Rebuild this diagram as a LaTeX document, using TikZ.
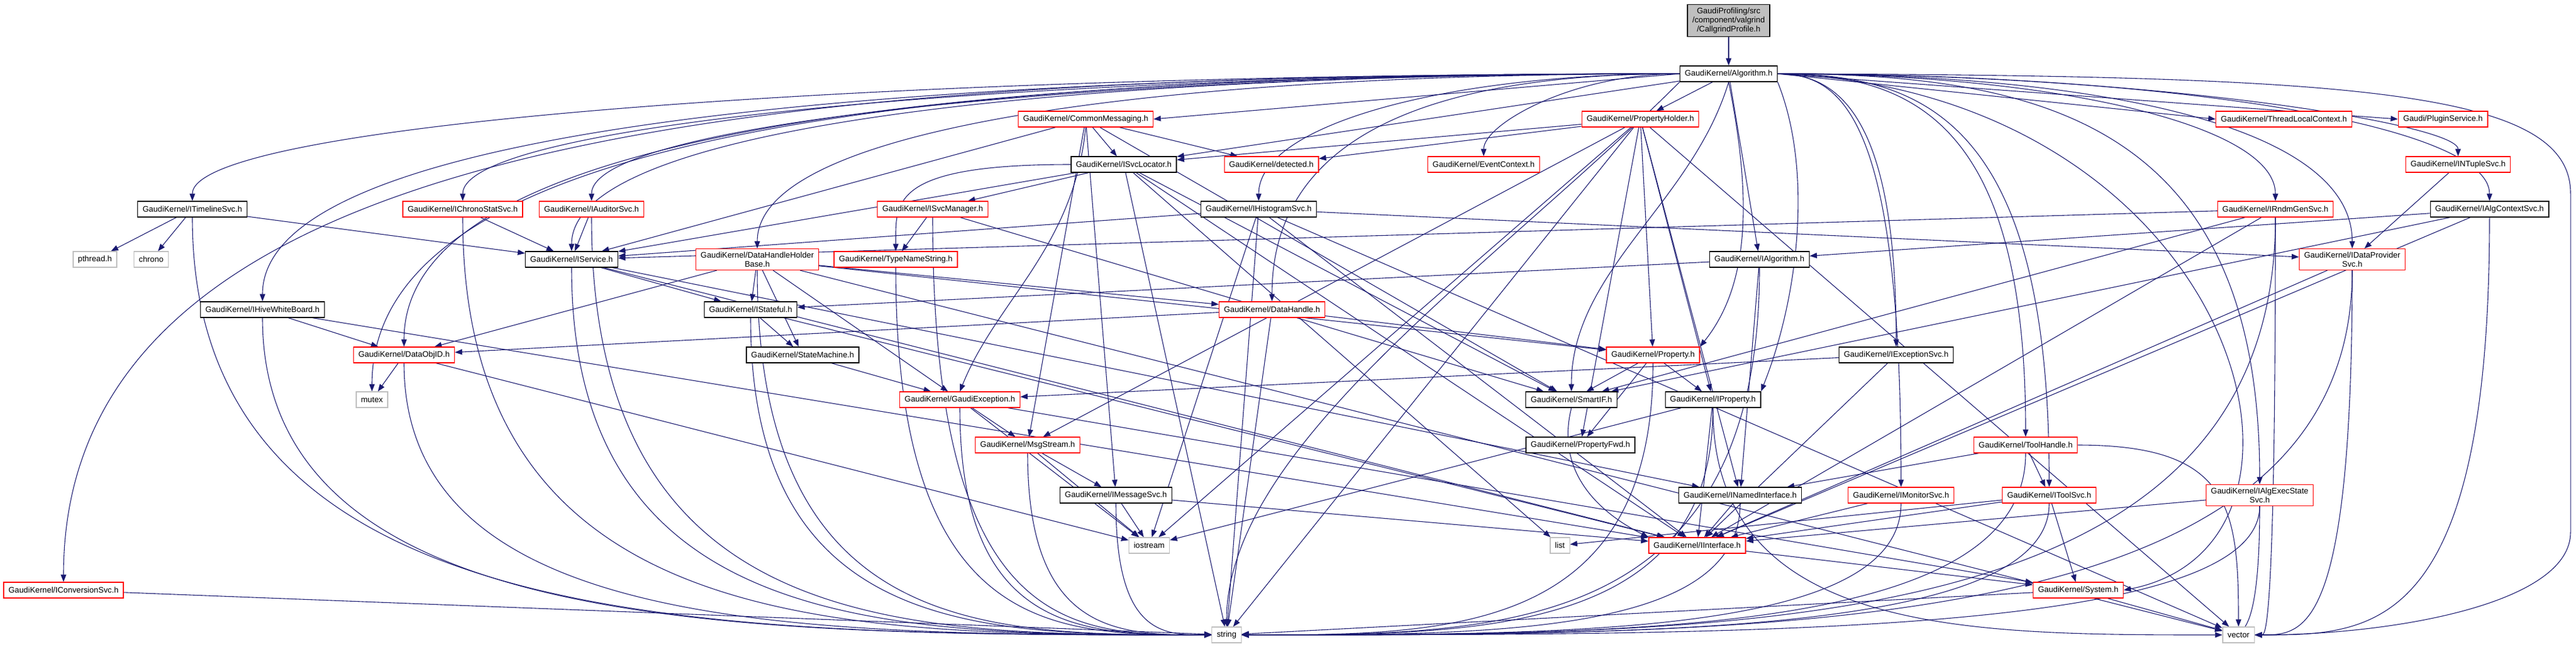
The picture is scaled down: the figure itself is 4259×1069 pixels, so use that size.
\documentclass[tikz,border=0pt]{standalone}
\usepackage{fontspec}
\setmainfont{Liberation Sans}
\usetikzlibrary{arrows.meta,calc}
\definecolor{edgec}{HTML}{191970}
\definecolor{grayb}{HTML}{BFBFBF}
\pgfdeclarelayer{back}
\pgfdeclarelayer{bg}
\pgfsetlayers{back,bg,main}
\newcommand{\algL}[1]{\draw[dep] (alg.west) .. controls ($(alg.west)!0.55!(#1.north |- alg.west)$) and ($(#1.north |- alg.south)+(0,70)$) .. (#1.north);}
\newcommand{\algR}[1]{\draw[dep] (alg.east) .. controls ($(alg.east)!0.55!(#1.north |- alg.east)$) and ($(#1.north |- alg.south)+(0,70)$) .. (#1.north);}
\newcommand{\strL}[1]{\draw[dep] (#1.south) .. controls (#1.south |- str.west) and ($(#1.south |- str.west)!0.5!(str.west)$) .. (str.west);}
\newcommand{\strR}[1]{\draw[dep] (#1.south) .. controls (#1.south |- str.east) and ($(#1.south |- str.east)!0.5!(str.east)$) .. (str.east);}
\newcommand{\vecL}[1]{\draw[dep] (#1.south) .. controls (#1.south |- vec.west) and ($(#1.south |- vec.west)!0.5!(vec.west)$) .. (vec.west);}
\newcommand{\vecR}[1]{\draw[dep] (#1.south) .. controls (#1.south |- vec.east) and ($(#1.south |- vec.east)!0.5!(vec.east)$) .. (vec.east);}
\newcommand{\dedge}[2]{\draw[dep] (#1) -- (#2);}
\begin{document}
\begin{tikzpicture}[x=1pt,y=-1pt,
  box/.style={rectangle, draw, line width=1.3pt, inner xsep=8pt, inner ysep=3pt,
    minimum height=26pt, font=\fontsize{13.3}{15}\selectfont, align=center, fill=white},
  rbox/.style={box, draw=red},
  bbox/.style={box, draw=black},
  gbox/.style={box, draw=grayb},
  two/.style={inner ysep=5pt},
  dep/.style={draw=edgec, line width=1.1pt, -{Triangle[length=12pt,width=9pt]}}]
\begin{pgfonlayer}{back}
\fill[white] (0,0) rectangle (4259,1069);
\end{pgfonlayer}
\useasboundingbox (0,0) rectangle (4259,1069);
% nodes
\node[box, draw=black, fill=grayb, two] (root) at (2858,34) {GaudiProfiling/src\\/component/valgrind\\/CallgrindProfile.h};
\node[bbox] (alg) at (2858,122) {GaudiKernel/Algorithm.h};
\node[rbox] (ph) at (2712,197) {GaudiKernel/PropertyHolder.h};
\node[rbox] (cm) at (1795,197) {GaudiKernel/CommonMessaging.h};
\node[rbox] (tlc) at (3776,197) {GaudiKernel/ThreadLocalContext.h};
\node[rbox] (plug) at (4039,197) {Gaudi/PluginService.h};
\node[rbox] (evc) at (2453,272) {GaudiKernel/EventContext.h};
\node[rbox] (det) at (2102,272) {GaudiKernel/detected.h};
\node[bbox] (svl) at (1858,272) {GaudiKernel/ISvcLocator.h};
\node[rbox] (ntup) at (4064,272) {GaudiKernel/INTupleSvc.h};
\node[bbox] (tl) at (318,346) {GaudiKernel/ITimelineSvc.h};
\node[rbox] (chr) at (765,346) {GaudiKernel/IChronoStatSvc.h};
\node[rbox] (aud) at (978,346) {GaudiKernel/IAuditorSvc.h};
\node[rbox] (svm) at (1542,346) {GaudiKernel/ISvcManager.h};
\node[bbox] (hist) at (2081,346) {GaudiKernel/IHistogramSvc.h};
\node[rbox] (rndm) at (3762,346) {GaudiKernel/IRndmGenSvc.h};
\node[bbox] (actx) at (4116,346) {GaudiKernel/IAlgContextSvc.h};
\node[gbox] (pth) at (157,429) {pthread.h};
\node[gbox] (chrono) at (250,429) {chrono};
\node[bbox] (isvc) at (945,429) {GaudiKernel/IService.h};
\node[rbox, two] (dhhb) at (1252,429) {GaudiKernel/DataHandleHolder\\Base.h};
\node[rbox] (tns) at (1481,429) {GaudiKernel/TypeNameString.h};
\node[bbox] (ialg) at (2909,429) {GaudiKernel/IAlgorithm.h};
\node[rbox, two] (dps) at (3889,429) {GaudiKernel/IDataProvider\\Svc.h};
\node[bbox] (hive) at (434,512) {GaudiKernel/IHiveWhiteBoard.h};
\node[bbox] (stf) at (1241,512) {GaudiKernel/IStateful.h};
\node[rbox] (dh) at (2103,512) {GaudiKernel/DataHandle.h};
\node[rbox] (doid) at (668,587) {GaudiKernel/DataObjID.h};
\node[bbox] (sm) at (1327,587) {GaudiKernel/StateMachine.h};
\node[rbox] (prop) at (2733,587) {GaudiKernel/Property.h};
\node[bbox] (exc) at (3135,587) {GaudiKernel/IExceptionSvc.h};
\node[gbox] (mutex) at (615,661) {mutex};
\node[rbox] (gex) at (1587,661) {GaudiKernel/GaudiException.h};
\node[bbox] (sif) at (2598,661) {GaudiKernel/SmartIF.h};
\node[bbox] (iprop) at (2832,661) {GaudiKernel/IProperty.h};
\node[rbox] (msg) at (1699,736) {GaudiKernel/MsgStream.h};
\node[bbox] (pfwd) at (2613,736) {GaudiKernel/PropertyFwd.h};
\node[rbox] (th) at (3349,736) {GaudiKernel/ToolHandle.h};
\node[bbox] (imsg) at (1845,819) {GaudiKernel/IMessageSvc.h};
\node[bbox] (nif) at (2877,819) {GaudiKernel/INamedInterface.h};
\node[rbox] (mon) at (3143,819) {GaudiKernel/IMonitorSvc.h};
\node[rbox] (tsvc) at (3388,819) {GaudiKernel/IToolSvc.h};
\node[rbox, two] (aes) at (3736,819) {GaudiKernel/IAlgExecState\\Svc.h};
\node[gbox] (ios) at (1900,902) {iostream};
\node[gbox] (list) at (2579,902) {list};
\node[rbox] (iif) at (2806,902) {GaudiKernel/IInterface.h};
\node[rbox] (conv) at (105,976) {GaudiKernel/IConversionSvc.h};
\node[rbox] (sys) at (3436,976) {GaudiKernel/System.h};
\node[gbox] (str) at (2028,1050) {string};
\node[gbox] (vec) at (3701,1050) {vector};
\begin{pgfonlayer}{bg}
% root
\dedge{root}{alg}
% Algorithm.h, left side
\dedge{alg}{ph}
\draw[dep] (alg.west) -- (cm.east);
\dedge{alg}{svl}
\algL{evc}
\algL{hist}
\algL{tl}
\algL{chr}
\algL{aud}
\algL{conv}
\algL{hive}
\algL{doid}
\algL{mutex}
\algL{dhhb}
\algL{isvc}
\algL{dh}
\draw[dep] (alg.south west) .. controls +(-300,300) and +(0,-300) .. (str.north);
% Algorithm.h, right side
\draw[dep] (alg.east) -- (tlc.west);
\draw[dep] (alg.east) -- (plug.west);
\algR{ntup}
\algR{rndm}
\algR{actx}
\algR{dps}
\algR{th}
\algR{tsvc}
\algR{mon}
\algR{aes}
\algR{exc}
\draw[dep] (alg.east) .. controls (3900,125) and (4250,150) .. (4250,320) -- (4250,880) .. controls (4250,1000) and (3950,1050) .. (vec.east);
\draw[dep] (alg.east) .. controls (3700,150) and (3900,900) .. (sys.east);
\draw[dep] (alg.south east) .. controls +(60,150) and +(60,-150) .. (iprop.north east);
\draw[dep] (alg.south) .. controls +(40,200) and +(80,-100) .. (prop.north east);
\dedge{alg}{ialg}
\draw[dep] (alg.south) .. controls +(-60,200) and +(0,-200) .. (sif.north);
% PropertyHolder.h
\dedge{ph}{det}
\dedge{ph}{svl}
\dedge{ph}{prop}
\dedge{ph}{iprop}
\dedge{ph}{nif}
\dedge{ph}{vec}
\dedge{ph}{ios}
\dedge{ph}{pfwd}
\dedge{ph}{msg}
\dedge{ph}{str}
% CommonMessaging.h
\dedge{cm}{svl}
\dedge{cm}{det}
\dedge{cm}{isvc}
\draw[dep] (cm.south) .. controls +(-20,200) and +(60,-150) .. (gex.north);
\dedge{cm}{msg}
\dedge{cm}{imsg}
\dedge{cm}{sif}
% ISvcLocator.h
\dedge{svl}{svm}
\draw[dep] (svl.west) .. controls +(-300,0) and +(0,-80) .. (tns.north);
\dedge{svl}{isvc}
\dedge{svl}{sif}
\dedge{svl}{iif}
\dedge{svl}{list}
\dedge{svl}{str}
% ISvcManager.h
\dedge{svm}{tns}
\strL{svm}
\dedge{svm}{sif}
% IHistogramSvc.h
\dedge{hist}{dps}
\dedge{hist}{isvc}
\dedge{hist}{str}
\dedge{hist}{ios}
\dedge{hist}{vec}
\dedge{hist}{iif}
% ITimelineSvc.h
\dedge{tl}{pth}
\dedge{tl}{chrono}
\dedge{tl}{isvc}
\strL{tl}
% IChronoStatSvc.h, IAuditorSvc.h
\dedge{chr}{isvc}
\strL{chr}
\dedge{aud}{isvc}
\strL{aud}
% INTupleSvc.h
\dedge{ntup}{dps}
% IRndmGenSvc.h
\dedge{rndm}{isvc}
\dedge{rndm}{sif}
\strR{rndm}
\vecR{rndm}
\dedge{rndm}{iif}
% IAlgContextSvc.h
\dedge{actx}{ialg}
\dedge{actx}{iif}
\vecR{actx}
\dedge{actx}{sif}
% IService.h
\dedge{isvc}{stf}
\dedge{isvc}{nif}
\strL{isvc}
\dedge{isvc}{iif}
% DataHandleHolderBase.h
\dedge{dhhb}{stf}
\dedge{dhhb}{sm}
\dedge{dhhb}{gex}
\dedge{dhhb}{dh}
\dedge{dhhb}{prop}
\dedge{dhhb}{doid}
\strL{dhhb}
\dedge{dhhb}{vec}
% TypeNameString.h
\strL{tns}
% IAlgorithm.h
\dedge{ialg}{stf}
\dedge{ialg}{nif}
\strR{ialg}
% IDataProviderSvc.h
\dedge{dps}{iif}
\strR{dps}
\vecR{dps}
% IHiveWhiteBoard.h
\dedge{hive}{doid}
\strL{hive}
\dedge{hive}{iif}
% IStateful.h
\dedge{stf}{sm}
\dedge{stf}{iif}
\strL{stf}
% DataHandle.h
\dedge{dh}{doid}
\dedge{dh}{prop}
\dedge{dh}{str}
% DataObjID.h
\dedge{doid}{mutex}
\strL{doid}
\dedge{doid}{ios}
% StateMachine.h
\dedge{sm}{gex}
% Property.h
\dedge{prop}{sif}
\dedge{prop}{iprop}
\dedge{prop}{pfwd}
\strR{prop}
% IExceptionSvc.h
\dedge{exc}{gex}
\dedge{exc}{iif}
% GaudiException.h
\dedge{gex}{msg}
\strL{gex}
\dedge{gex}{sys}
\dedge{gex}{ios}
% SmartIF.h
\draw[dep] (sif.south) .. controls +(-30,120) and +(-60,-30) .. (iif.north west);
% IProperty.h
\dedge{iprop}{iif}
\strR{iprop}
\dedge{iprop}{ios}
\vecL{iprop}
% MsgStream.h
\dedge{msg}{imsg}
\strL{msg}
\dedge{msg}{ios}
% ToolHandle.h
\dedge{th}{tsvc}
\dedge{th}{nif}
\strR{th}
\draw[dep] (th.east) .. controls +(250,0) and +(0,-200) .. (vec.north);
% IMessageSvc.h
\dedge{imsg}{ios}
\dedge{imsg}{iif}
\strL{imsg}
% INamedInterface.h
\dedge{nif}{iif}
\strR{nif}
% IMonitorSvc.h
\dedge{mon}{iif}
\strR{mon}
% IToolSvc.h
\dedge{tsvc}{sys}
\dedge{tsvc}{iif}
\dedge{tsvc}{list}
\strR{tsvc}
% IAlgExecStateSvc.h
\dedge{aes}{iif}
\strR{aes}
\vecL{aes}
% IInterface.h
\dedge{iif}{sys}
% IConversionSvc.h
\dedge{conv}{str}
% System.h
\dedge{sys}{vec}
\dedge{sys}{str}
\end{pgfonlayer}
\end{tikzpicture}
\end{document}
